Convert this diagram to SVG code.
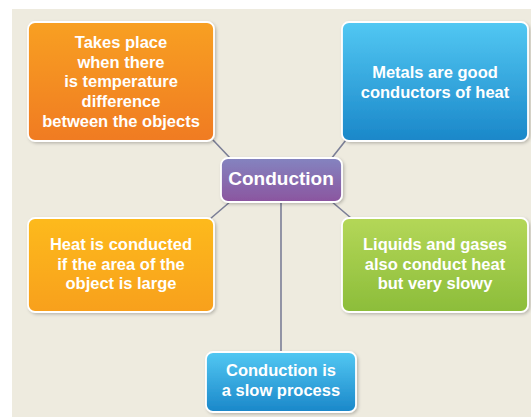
<svg xmlns="http://www.w3.org/2000/svg" width="531" height="417" viewBox="0 0 531 417">
<defs>
<linearGradient id="gOrange" x1="0" y1="0" x2="0" y2="1"><stop offset="0" stop-color="#F8A021"/><stop offset="1" stop-color="#F07B22"/></linearGradient>
<linearGradient id="gBlue" x1="0" y1="0" x2="0" y2="1"><stop offset="0" stop-color="#52C8F3"/><stop offset="1" stop-color="#1A87C9"/></linearGradient>
<linearGradient id="gPurple" x1="0" y1="0" x2="0" y2="1"><stop offset="0" stop-color="#8484C0"/><stop offset="1" stop-color="#8B559F"/></linearGradient>
<linearGradient id="gYellow" x1="0" y1="0" x2="0" y2="1"><stop offset="0" stop-color="#FDBA1B"/><stop offset="1" stop-color="#F8A01D"/></linearGradient>
<linearGradient id="gGreen" x1="0" y1="0" x2="0" y2="1"><stop offset="0" stop-color="#B4D758"/><stop offset="1" stop-color="#8CBD3A"/></linearGradient>
<filter id="sh" x="-10%" y="-10%" width="130%" height="130%"><feDropShadow dx="1.5" dy="1.5" stdDeviation="1.5" flood-color="#000" flood-opacity="0.22"/></filter>
</defs>
<style>
.box{stroke:#fff;stroke-width:1.8;filter:url(#sh)}
.t{font-family:"Liberation Sans",Arial,sans-serif;font-weight:bold;font-size:16.5px;fill:#fff;text-anchor:middle}
.big{font-size:19px}
.ln{stroke:#7A7E96;stroke-width:1.6;fill:none}
</style>
<rect x="0" y="0" width="531" height="417" fill="#fff"/>
<rect x="12" y="9" width="519" height="408" fill="#EEEBDF"/>
<g id="connectors">
<line class="ln" x1="213" y1="140" x2="231" y2="159"/>
<line class="ln" x1="346" y1="140" x2="331" y2="159"/>
<line class="ln" x1="210" y1="219" x2="231" y2="201"/>
<line class="ln" x1="331" y1="201" x2="351" y2="218"/>
<line class="ln" x1="281" y1="201" x2="281" y2="352"/>
</g>
<g id="n-temp">
<rect class="box" x="28" y="22" width="186" height="119" rx="7" fill="url(#gOrange)"/>
<text class="t" x="121" y="48">Takes place</text>
<text class="t" x="121" y="67.5">when there</text>
<text class="t" x="121" y="87">is temperature</text>
<text class="t" x="121" y="107">difference</text>
<text class="t" x="121" y="126.5">between the objects</text>
</g>
<g id="n-metals">
<rect class="box" x="342" y="22" width="186" height="119" rx="7" fill="url(#gBlue)"/>
<text class="t" x="435" y="77.5">Metals are good</text>
<text class="t" x="435" y="97.5">conductors of heat</text>
</g>
<g id="n-center">
<rect class="box" x="221" y="158" width="121" height="44" rx="7" fill="url(#gPurple)"/>
<text class="t big" x="281" y="184.5">Conduction</text>
</g>
<g id="n-area">
<rect class="box" x="28" y="218" width="186" height="94" rx="7" fill="url(#gYellow)"/>
<text class="t" x="121" y="249.5">Heat is conducted</text>
<text class="t" x="121" y="269.5">if the area of the</text>
<text class="t" x="121" y="289">object is large</text>
</g>
<g id="n-liquids">
<rect class="box" x="342" y="218" width="186" height="94" rx="7" fill="url(#gGreen)"/>
<text class="t" x="435" y="249.5">Liquids and gases</text>
<text class="t" x="435" y="269.5">also conduct heat</text>
<text class="t" x="435" y="289">but very slowy</text>
</g>
<g id="n-slow">
<rect class="box" x="206" y="352" width="150" height="60" rx="7" fill="url(#gBlue)"/>
<text class="t" x="281" y="376">Conduction is</text>
<text class="t" x="281" y="396">a slow process</text>
</g>
</svg>
